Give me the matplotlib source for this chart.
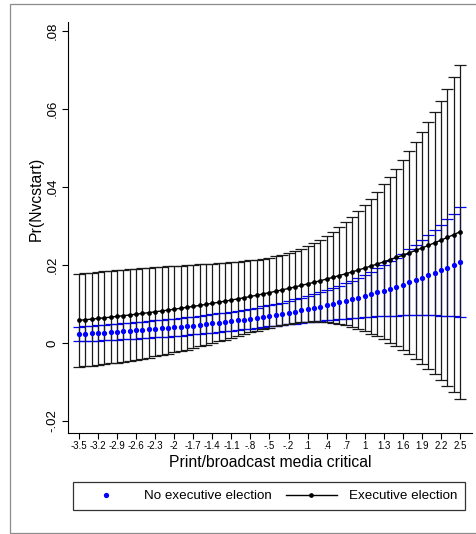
import matplotlib
matplotlib.use("Agg")
import matplotlib.pyplot as plt
from matplotlib.lines import Line2D
from matplotlib.patches import Rectangle

plt.rcParams['font.family'] = ['Liberation Sans', 'DejaVu Sans']

# media critical values (x)
media = [-3.5, -3.4, -3.3, -3.2, -3.1, -3.0, -2.9, -2.8, -2.7, -2.6,
         -2.5, -2.4, -2.3, -2.2, -2.1, -2.0, -1.9, -1.8, -1.7, -1.6,
         -1.5, -1.4, -1.3, -1.2, -1.1, -1.0, -0.9, -0.8, -0.7, -0.6,
         -0.5, -0.4, -0.3, -0.2, -0.1, 0.0, 0.1, 0.2, 0.3, 0.4,
         0.5, 0.6, 0.7, 0.8, 0.9, 1.0, 1.1, 1.2, 1.3, 1.4,
         1.5, 1.6, 1.7, 1.8, 1.9, 2.0, 2.1, 2.2, 2.3, 2.4, 2.5]

# no executive election (blue)
noexec_est = [0.00231, 0.00240, 0.00249, 0.00258, 0.00268, 0.00278, 0.00288, 0.00299, 0.00310, 0.00322,
              0.00334, 0.00346, 0.00359, 0.00373, 0.00387, 0.00401, 0.00416, 0.00432, 0.00448, 0.00465,
              0.00482, 0.00500, 0.00519, 0.00538, 0.00559, 0.00579, 0.00601, 0.00624, 0.00647, 0.00671,
              0.00696, 0.00722, 0.00749, 0.00777, 0.00806, 0.00836, 0.00867, 0.00899, 0.00933, 0.00968,
              0.01004, 0.01041, 0.01080, 0.01120, 0.01162, 0.01205, 0.01250, 0.01296, 0.01344, 0.01394,
              0.01446, 0.01499, 0.01555, 0.01612, 0.01672, 0.01733, 0.01797, 0.01864, 0.01933, 0.02004, 0.02078]
noexec_lo = [0.00041, 0.00047, 0.00054, 0.00060, 0.00068, 0.00075, 0.00083, 0.00092, 0.00101, 0.00111,
             0.00120, 0.00131, 0.00142, 0.00153, 0.00165, 0.00178, 0.00191, 0.00205, 0.00219, 0.00234,
             0.00249, 0.00265, 0.00281, 0.00298, 0.00315, 0.00332, 0.00350, 0.00368, 0.00387, 0.00405,
             0.00424, 0.00442, 0.00461, 0.00479, 0.00497, 0.00515, 0.00533, 0.00549, 0.00566, 0.00582,
             0.00597, 0.00611, 0.00625, 0.00638, 0.00650, 0.00661, 0.00671, 0.00680, 0.00688, 0.00695,
             0.00701, 0.00705, 0.00708, 0.00710, 0.00711, 0.00709, 0.00707, 0.00702, 0.00696, 0.00689, 0.00679]
noexec_hi = [0.00421, 0.00432, 0.00444, 0.00456, 0.00468, 0.00480, 0.00493, 0.00506, 0.00519, 0.00533,
             0.00547, 0.00562, 0.00577, 0.00592, 0.00608, 0.00625, 0.00642, 0.00659, 0.00677, 0.00696,
             0.00716, 0.00736, 0.00757, 0.00779, 0.00802, 0.00827, 0.00852, 0.00879, 0.00907, 0.00937,
             0.00969, 0.01002, 0.01037, 0.01075, 0.01115, 0.01157, 0.01202, 0.01249, 0.01300, 0.01354,
             0.01411, 0.01471, 0.01535, 0.01602, 0.01674, 0.01749, 0.01828, 0.01912, 0.02000, 0.02093,
             0.02190, 0.02293, 0.02401, 0.02514, 0.02633, 0.02758, 0.02888, 0.03025, 0.03169, 0.03319, 0.03476]

# executive election (black)
exec_est = [0.00580, 0.00596, 0.00612, 0.00629, 0.00646, 0.00663, 0.00681, 0.00700, 0.00718, 0.00738,
            0.00758, 0.00778, 0.00800, 0.00821, 0.00843, 0.00866, 0.00890, 0.00914, 0.00938, 0.00964,
            0.00990, 0.01017, 0.01044, 0.01072, 0.01101, 0.01131, 0.01161, 0.01193, 0.01225, 0.01258,
            0.01292, 0.01326, 0.01362, 0.01399, 0.01436, 0.01475, 0.01515, 0.01555, 0.01597, 0.01640,
            0.01684, 0.01729, 0.01776, 0.01823, 0.01872, 0.01922, 0.01974, 0.02026, 0.02080, 0.02136,
            0.02193, 0.02251, 0.02311, 0.02373, 0.02436, 0.02501, 0.02568, 0.02636, 0.02706, 0.02778, 0.02851]
exec_lo = [-0.00610, -0.00595, -0.00579, -0.00561, -0.00543, -0.00523, -0.00501, -0.00478, -0.00454, -0.00429,
           -0.00402, -0.00373, -0.00343, -0.00311, -0.00278, -0.00243, -0.00207, -0.00169, -0.00130, -0.00089,
           -0.00047, -0.00004, 0.00040, 0.00086, 0.00131, 0.00177, 0.00223, 0.00269, 0.00313, 0.00356,
           0.00397, 0.00434, 0.00468, 0.00497, 0.00521, 0.00538, 0.00549, 0.00553, 0.00549, 0.00537,
           0.00518, 0.00491, 0.00456, 0.00414, 0.00365, 0.00308, 0.00243, 0.00172, 0.00093, 0.00007,
           -0.00086, -0.00186, -0.00293, -0.00408, -0.00531, -0.00661, -0.00799, -0.00944, -0.01099, -0.01261, -0.01432]
exec_hi = [0.01770, 0.01787, 0.01803, 0.01818, 0.01834, 0.01849, 0.01863, 0.01877, 0.01891, 0.01904,
           0.01917, 0.01930, 0.01942, 0.01953, 0.01964, 0.01975, 0.01986, 0.01997, 0.02006, 0.02016,
           0.02027, 0.02037, 0.02047, 0.02059, 0.02071, 0.02084, 0.02099, 0.02117, 0.02136, 0.02159,
           0.02187, 0.02219, 0.02256, 0.02301, 0.02352, 0.02412, 0.02480, 0.02558, 0.02645, 0.02743,
           0.02850, 0.02967, 0.03095, 0.03232, 0.03379, 0.03537, 0.03704, 0.03881, 0.04068, 0.04265,
           0.04472, 0.04689, 0.04916, 0.05154, 0.05403, 0.05663, 0.05934, 0.06216, 0.06510, 0.06816, 0.07134]

xticks = [-3.5, -3.2, -2.9, -2.6, -2.3, -2.0, -1.7, -1.4, -1.1, -0.8, -0.5,
          -0.2, 0.1, 0.4, 0.7, 1.0, 1.3, 1.6, 1.9, 2.2, 2.5]
xtick_labels = ["-3.5", "-3.2", "-2.9", "-2.6", "-2.3", "-2", "-1.7", "-1.4", "-1.1", "-.8", "-.5",
                "-.2", ".1", ".4", ".7", "1", "1.3", "1.6", "1.9", "2.2", "2.5"]
yticks = [-0.02, 0, 0.02, 0.04, 0.06, 0.08]
ytick_labels = ["-.02", "0", ".02", ".04", ".06", ".08"]

fig = plt.figure(figsize=(4.76, 5.34), dpi=100)
fig.patches.append(Rectangle((10 / 476, 1 / 534), 1.0, 529 / 534, transform=fig.transFigure,
                             fill=False, edgecolor="#8c8c8c", linewidth=0.9))
ax = fig.add_axes([68 / 476, 101 / 534, 404 / 476, 411 / 534])

err_lo_b = [e - l for e, l in zip(noexec_est, noexec_lo)]
err_hi_b = [h - e for e, h in zip(noexec_est, noexec_hi)]
err_lo_k = [e - l for e, l in zip(exec_est, exec_lo)]
err_hi_k = [h - e for e, h in zip(exec_est, exec_hi)]

ax.errorbar(media, noexec_est, yerr=[err_lo_b, err_hi_b], fmt="none", ecolor="blue",
            elinewidth=0.9, capsize=4.3, capthick=0.9, zorder=1)
ax.errorbar(media, exec_est, yerr=[err_lo_k, err_hi_k], fmt="none", ecolor="#1a1a1a",
            elinewidth=0.9, capsize=4.3, capthick=0.9, zorder=2)
ax.plot(media, noexec_est, "o", color="blue", ms=3.8, mew=0, zorder=3)
ax.plot(media, exec_est, "-o", color="black", lw=1.0, ms=3.4, mew=0, zorder=4)

ax.set_xlim(-3.673, 2.689)
ax.set_ylim(-0.02308, 0.0823)
for s in ["top", "right"]:
    ax.spines[s].set_visible(False)
for s in ["left", "bottom"]:
    ax.spines[s].set_linewidth(0.8)

ax.set_xticks(xticks)
ax.set_xticklabels(xtick_labels, fontsize=7)
ax.set_yticks(yticks)
ax.set_yticklabels(ytick_labels, fontsize=9.5, rotation=90, va="center")
ax.tick_params(axis="both", direction="out", length=4, width=0.8)
ax.tick_params(axis="x", pad=2)
ax.tick_params(axis="y", pad=3)

ax.set_xlabel("Print/broadcast media critical", fontsize=11.3)
ax.xaxis.set_label_coords(0.5, -0.071)
ax.xaxis.label.set_va("center")
ax.set_ylabel("Pr(Nvcstart)", fontsize=11.3)
ax.yaxis.set_label_coords(-0.079, 0.57)
ax.yaxis.label.set_va("center")

handles = [Line2D([], [], color="blue", marker="o", ls="none", ms=3.8, mew=0),
           Line2D([], [], color="black", marker="o", lw=1.0, ms=3.4, mew=0)]
leg = fig.legend(handles, ["No executive election", "Executive election"], ncol=2,
                 loc="center", bbox_to_anchor=(269 / 476, 1 - 496 / 534), fontsize=9.6,
                 frameon=True, fancybox=False, edgecolor="black", handlelength=3.8,
                 handletextpad=0.9, columnspacing=1.1, borderpad=0.6, borderaxespad=0)
leg.get_frame().set_linewidth(0.9)

fig.savefig("out.png", dpi=100)
